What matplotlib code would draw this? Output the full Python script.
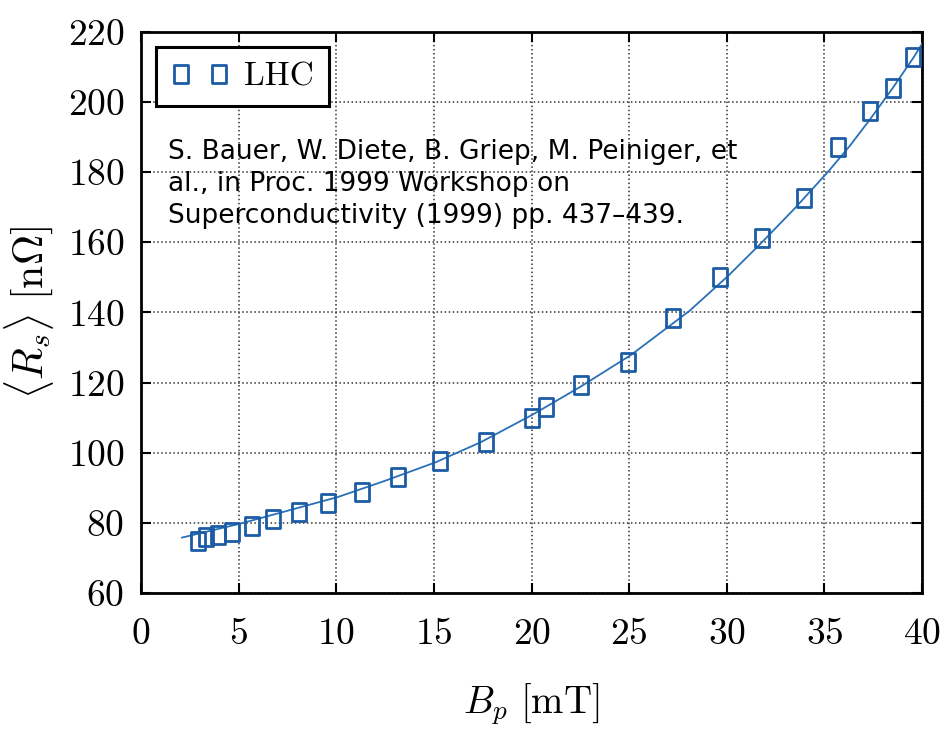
import numpy as np
import matplotlib
matplotlib.use("Agg")
import matplotlib.pyplot as plt
from matplotlib.path import Path

B_DATA = [2.93, 3.33, 3.96, 4.68, 5.67, 6.76, 8.09, 9.59, 11.33, 13.15, 15.30, 17.67,
          20.01, 20.73, 22.54, 24.94, 27.26, 29.65, 31.82, 33.96, 35.70, 37.32, 38.53, 39.55]
RS_DATA = [74.8, 76.0, 76.5, 77.5, 79.1, 81.2, 83.0, 85.7, 88.8, 93.1, 97.6, 103.0,
           110.0, 113.0, 119.3, 125.9, 138.3, 150.0, 161.3, 172.6, 187.3, 197.6, 204.1, 212.8]

# fit curve
B_FIT = [2.1, 5.1, 7.6, 10.1, 12.5, 15.1, 17.4, 20.1, 22.5, 25.1, 28.1, 30.1,
         31.8, 33.5, 35.2, 36.3, 37.3, 38.5, 39.6, 40.0]
RS_FIT = [75.8, 79.8, 83.6, 87.4, 92.0, 97.3, 103.0, 111.0, 118.8, 127.9, 140.5, 150.6,
          160.0, 169.8, 180.2, 187.5, 194.8, 204.0, 213.0, 216.6]

X_TICKS = [0, 5, 10, 15, 20, 25, 30, 35, 40]
Y_TICKS = [60, 80, 100, 120, 140, 160, 180, 200, 220]

REF_TEXT = ("S. Bauer, W. Diete, B. Griep, M. Peiniger, et\n"
            "al., in Proc. 1999 Workshop on\n"
            "Superconductivity (1999) pp. 437\u2013439.")

plt.rcParams['font.family'] = 'serif'
plt.rcParams['font.serif'] = ['cmr10']
plt.rcParams['mathtext.fontset'] = 'cm'
plt.rcParams['axes.unicode_minus'] = False
plt.rcParams['axes.formatter.use_mathtext'] = True

# the squares in the original come out a bit taller than wide
tall_square = Path([(-0.5, -0.62), (0.5, -0.62), (0.5, 0.62), (-0.5, 0.62), (-0.5, -0.62)],
                   [Path.MOVETO, Path.LINETO, Path.LINETO, Path.LINETO, Path.CLOSEPOLY])

fig = plt.figure(figsize=(9.44, 7.30), dpi=100)
ax = fig.add_axes([0.1494, 0.1877, 0.8273, 0.7685])

ax.plot(B_FIT, RS_FIT, '-', color='#2a70b8', lw=1.3, zorder=3)
ax.plot(B_DATA, RS_DATA, ls='none', marker=tall_square, ms=12.5, mfc='none',
        mec='#1c5ca4', mew=2.0, label='LHC', zorder=4)

ax.set_xlim(0, 40)
ax.set_ylim(60, 220)
ax.set_xticks(X_TICKS)
ax.set_yticks(Y_TICKS)
ax.tick_params(direction='in', length=7, width=1.5, labelsize=27,
               top=True, right=True)
ax.tick_params(axis='x', pad=18)
ax.tick_params(axis='y', pad=12)
for s in ax.spines.values():
    s.set_linewidth(2.0)
ax.grid(True, ls=':', color='#333333', lw=1.1)

ax.set_xlabel(r'$B_p\ [\mathrm{mT}]$', fontsize=28, labelpad=22)
ax.set_ylabel(r'$\langle R_s \rangle\ [\mathrm{n}\Omega]$', fontsize=30, labelpad=8)

leg = ax.legend(loc='upper left', numpoints=2, fontsize=24, fancybox=False,
                framealpha=1, edgecolor='black', borderpad=0.45,
                handlelength=1.75, handletextpad=0.45, borderaxespad=0.45)
leg.get_frame().set_linewidth(2.2)

ax.text(0.034, 0.81, REF_TEXT, transform=ax.transAxes, ha='left', va='top',
        fontsize=19, family='DejaVu Sans', linespacing=1.3, zorder=5)

fig.savefig('out.png', dpi=100)
